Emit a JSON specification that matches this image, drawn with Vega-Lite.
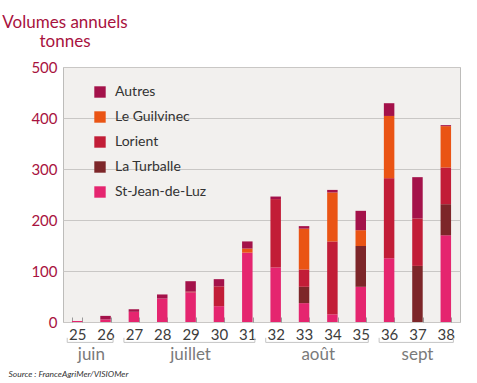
{
  "$schema": "https://vega.github.io/schema/vega-lite/v6.json",
  "width": 397,
  "height": 255,
  "autosize": {"type": "none"},
  "padding": {"left": 63, "top": 67, "right": 17, "bottom": 61},
  "background": "white",
  "config": {
    "font": "Lato",
    "view": {"fill": "#f2f0ee", "stroke": "#bdbcba", "strokeWidth": 1}
  },
  "title": {
    "text": ["Volumes annuels", "tonnes"],
    "anchor": "start",
    "frame": "group",
    "align": "center",
    "dx": 2,
    "fontSize": 17,
    "fontWeight": "normal",
    "color": "#a8123e",
    "lineHeight": 19,
    "offset": 9
  },
  "datasets": {
    "volumes": [
      {"week": "25", "port": "St-Jean-de-Luz", "tonnes": 2},
      {"week": "26", "port": "St-Jean-de-Luz", "tonnes": 5},
      {"week": "26", "port": "Autres", "tonnes": 7},
      {"week": "27", "port": "St-Jean-de-Luz", "tonnes": 20},
      {"week": "27", "port": "Autres", "tonnes": 5},
      {"week": "28", "port": "St-Jean-de-Luz", "tonnes": 46},
      {"week": "28", "port": "Autres", "tonnes": 8},
      {"week": "29", "port": "St-Jean-de-Luz", "tonnes": 58},
      {"week": "29", "port": "Lorient", "tonnes": 2},
      {"week": "29", "port": "Autres", "tonnes": 20},
      {"week": "30", "port": "St-Jean-de-Luz", "tonnes": 31},
      {"week": "30", "port": "Lorient", "tonnes": 39},
      {"week": "30", "port": "Autres", "tonnes": 14},
      {"week": "31", "port": "St-Jean-de-Luz", "tonnes": 136},
      {"week": "31", "port": "Le Guilvinec", "tonnes": 8},
      {"week": "31", "port": "Autres", "tonnes": 14},
      {"week": "32", "port": "St-Jean-de-Luz", "tonnes": 107},
      {"week": "32", "port": "Lorient", "tonnes": 134},
      {"week": "32", "port": "Autres", "tonnes": 5},
      {"week": "33", "port": "St-Jean-de-Luz", "tonnes": 37},
      {"week": "33", "port": "La Turballe", "tonnes": 32},
      {"week": "33", "port": "Lorient", "tonnes": 34},
      {"week": "33", "port": "Le Guilvinec", "tonnes": 80},
      {"week": "33", "port": "Autres", "tonnes": 5},
      {"week": "34", "port": "St-Jean-de-Luz", "tonnes": 15},
      {"week": "34", "port": "Lorient", "tonnes": 143},
      {"week": "34", "port": "Le Guilvinec", "tonnes": 96},
      {"week": "34", "port": "Autres", "tonnes": 5},
      {"week": "35", "port": "St-Jean-de-Luz", "tonnes": 69},
      {"week": "35", "port": "La Turballe", "tonnes": 80},
      {"week": "35", "port": "Le Guilvinec", "tonnes": 31},
      {"week": "35", "port": "Autres", "tonnes": 38},
      {"week": "36", "port": "St-Jean-de-Luz", "tonnes": 125},
      {"week": "36", "port": "Lorient", "tonnes": 157},
      {"week": "36", "port": "Le Guilvinec", "tonnes": 122},
      {"week": "36", "port": "Autres", "tonnes": 25},
      {"week": "37", "port": "La Turballe", "tonnes": 110},
      {"week": "37", "port": "Lorient", "tonnes": 93},
      {"week": "37", "port": "Autres", "tonnes": 81},
      {"week": "38", "port": "St-Jean-de-Luz", "tonnes": 170},
      {"week": "38", "port": "La Turballe", "tonnes": 61},
      {"week": "38", "port": "Lorient", "tonnes": 72},
      {"week": "38", "port": "Le Guilvinec", "tonnes": 81},
      {"week": "38", "port": "Autres", "tonnes": 2}
    ],
    "ports": [
      {"port": "St-Jean-de-Luz", "rank": 1},
      {"port": "La Turballe", "rank": 2},
      {"port": "Lorient", "rank": 3},
      {"port": "Le Guilvinec", "rank": 4},
      {"port": "Autres", "rank": 5}
    ],
    "months": [
      {"month": "juin", "from": "25", "to": "26", "mid": "26"},
      {"month": "juillet", "from": "27", "to": "31", "mid": "29"},
      {"month": "août", "from": "32", "to": "35", "mid": "34"},
      {"month": "sept", "from": "36", "to": "38", "mid": "37"}
    ]
  },
  "layer": [
    {
      "data": {"name": "volumes"},
      "transform": [
        {"lookup": "port", "from": {"data": {"name": "ports"}, "key": "port", "fields": ["rank"]}}
      ],
      "mark": {"type": "bar"},
      "encoding": {
        "x": {
          "field": "week",
          "type": "ordinal",
          "scale": {"paddingInner": 0.63, "paddingOuter": 0.315},
          "axis": {
            "title": "Source : FranceAgriMer/VISIOMer",
            "titleFont": "Lato",
            "titleFontStyle": "italic",
            "titleFontWeight": "normal",
            "titleFontSize": 8.5,
            "titleColor": "#333333",
            "titleAnchor": "start",
            "titleAlign": "left",
            "titleBaseline": "alphabetic",
            "titleX": -55,
            "titleY": 54,
            "labelAngle": 0,
            "labelFontSize": 15,
            "labelColor": "#3c3c3c",
            "labelPadding": 10,
            "tickBand": "extent",
            "tickSize": -5,
            "tickColor": "#9a9a9a",
            "domain": false,
            "grid": false
          }
        },
        "y": {
          "field": "tonnes",
          "type": "quantitative",
          "stack": "zero",
          "scale": {"domain": [0, 500], "nice": false},
          "axis": {
            "title": null,
            "values": [0, 100, 200, 300, 400, 500],
            "labelFontSize": 15,
            "labelColor": "#a8123e",
            "labelPadding": 6,
            "ticks": false,
            "domain": false,
            "grid": true,
            "gridColor": "#c9c7c5"
          }
        },
        "order": {"field": "rank", "type": "quantitative", "sort": "ascending"},
        "color": {
          "field": "port",
          "type": "nominal",
          "scale": {
            "domain": ["Autres", "Le Guilvinec", "Lorient", "La Turballe", "St-Jean-de-Luz"],
            "range": ["#a4124a", "#ea5414", "#c21d37", "#7d2629", "#e5256f"]
          },
          "legend": {
            "title": null,
            "orient": "none",
            "legendX": 30,
            "legendY": 18,
            "padding": 0,
            "symbolType": "square",
            "symbolSize": 130,
            "symbolStrokeWidth": 0,
            "symbolOpacity": 1,
            "labelFontSize": 14,
            "labelColor": "#333333",
            "labelOffset": 8,
            "rowPadding": 11
          }
        }
      }
    },
    {
      "data": {"name": "months"},
      "mark": {"type": "rule", "color": "#c4c4c4", "strokeWidth": 1},
      "encoding": {
        "x": {"field": "from", "type": "ordinal", "bandPosition": -0.45},
        "x2": {"field": "to", "bandPosition": 1.22},
        "y": {"datum": -40}
      }
    },
    {
      "data": {"name": "months"},
      "mark": {"type": "rule", "color": "#c4c4c4", "strokeWidth": 1},
      "encoding": {
        "x": {"field": "from", "type": "ordinal", "bandPosition": -0.45},
        "y": {"datum": -40},
        "y2": {"datum": -31}
      }
    },
    {
      "data": {"name": "months"},
      "mark": {"type": "rule", "color": "#c4c4c4", "strokeWidth": 1},
      "encoding": {
        "x": {"field": "to", "type": "ordinal", "bandPosition": 1.22},
        "y": {"datum": -40},
        "y2": {"datum": -31}
      }
    },
    {
      "data": {"name": "months"},
      "transform": [{"filter": {"field": "month", "oneOf": ["juin", "août"]}}],
      "mark": {"type": "text", "fontSize": 17, "color": "#7a7a7a", "baseline": "middle"},
      "encoding": {
        "x": {"field": "mid", "type": "ordinal", "bandPosition": -0.851},
        "y": {"datum": -64},
        "text": {"field": "month"}
      }
    },
    {
      "data": {"name": "months"},
      "transform": [{"filter": {"field": "month", "oneOf": ["juillet", "sept"]}}],
      "mark": {"type": "text", "fontSize": 17, "color": "#7a7a7a", "baseline": "middle"},
      "encoding": {
        "x": {"field": "mid", "type": "ordinal", "bandPosition": 0.5},
        "y": {"datum": -64},
        "text": {"field": "month"}
      }
    }
  ]
}
